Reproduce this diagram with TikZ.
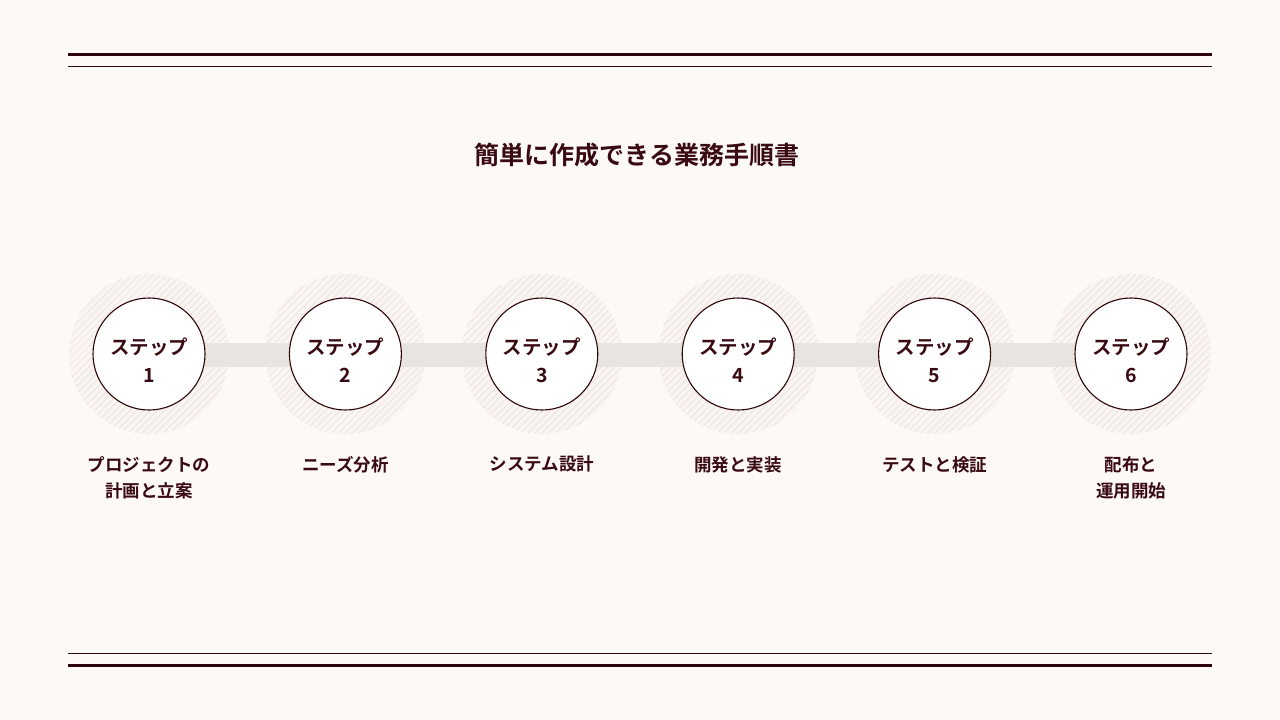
\documentclass[tikz,border=0pt]{standalone}
\usepackage{fontspec}
\setmainfont{Noto Sans CJK JP}[BoldFont={* Bold}]
\newfontfamily\jpb{Noto Sans CJK JP Bold}
\definecolor{bgc}{HTML}{FDF9F6}
\definecolor{ink}{HTML}{3A0A12}
\definecolor{rule}{HTML}{2E050B}
\definecolor{barc}{HTML}{E8E4DF}
\definecolor{hatch}{HTML}{EAE2DF}
\tikzset{
  stepcircle/.style={circle,draw=rule,line width=1.1pt,fill=white,minimum size=112pt,inner sep=0pt},
  steptext/.style={align=center,font=\jpb\fontsize{19.5}{28}\selectfont,text=ink,inner sep=0pt},
  steplabel/.style={align=center,font=\jpb\fontsize{17.5}{26}\selectfont,text=ink,anchor=north,inner sep=0pt},
  titlestyle/.style={font=\jpb\fontsize{25}{30}\selectfont,text=ink},
  connbar/.style={draw=none,fill=barc}
}
\begin{document}
\begin{tikzpicture}[x=1pt,y=-1pt]
\fill[bgc] (0,0) rectangle (1280,720);
\useasboundingbox (0,0) rectangle (1280,720);
% rules
\coordinate (tl1) at (68,54); \coordinate (tr1) at (1212,54);
\coordinate (tl2) at (68,66); \coordinate (tr2) at (1212,66);
\coordinate (bl1) at (68,653); \coordinate (br1) at (1212,653);
\coordinate (bl2) at (68,665); \coordinate (br2) at (1212,665);
\draw[rule,line width=3pt] (tl1) -- (tr1);
\draw[rule,line width=1pt] (tl2) -- (tr2);
\draw[rule,line width=1pt] (bl1) -- (br1);
\draw[rule,line width=3pt] (bl2) -- (br2);
% title
\node[titlestyle] (title) at (637,155) {簡単に作成できる業務手順書};
% halos
\foreach \cx in {149,345.4,541.8,738.2,934.6,1131}{
  \begin{scope}
    \clip (\cx,354) circle (80);
    \fill[hatch,opacity=0.15] (\cx,354) circle (80);
    \foreach \d in {-180,-173,...,180}{
      \draw[hatch,line width=0.7pt] (\cx+\d-100,454) -- (\cx+\d+100,254);
    }
  \end{scope}
}
% bar
\fill[connbar] (149,343) rectangle (1131,367);
% steps
\foreach \i/\cx in {1/149,2/345.4,3/541.8,4/738.2,5/934.6,6/1131}{
  \node[stepcircle] (s\i) at (\cx,354) {};
  \node[steptext] (t\i) at ([yshift=-6pt]s\i.center) {ステップ\\\i};
}
% labels
\node[steplabel] (l1) at (149,456) {プロジェクトの\\計画と立案};
\node[steplabel] (l2) at (345.4,456) {ニーズ分析};
\node[steplabel] (l3) at (541.8,456) {システム設計};
\node[steplabel] (l4) at (738.2,456) {開発と実装};
\node[steplabel] (l5) at (934.6,456) {テストと検証};
\node[steplabel] (l6) at (1131,456) {配布と\\運用開始};
\end{tikzpicture}
\end{document}
